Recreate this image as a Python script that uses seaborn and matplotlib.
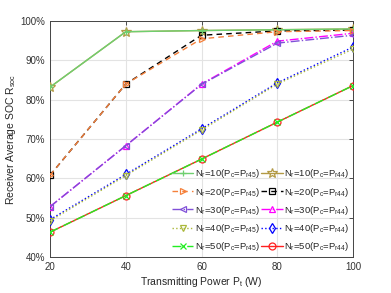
# receiver average SOC vs transmitting power

import numpy as np
import pandas as pd
import matplotlib
matplotlib.use("Agg")
import matplotlib.pyplot as plt
import seaborn as sns
from matplotlib.ticker import FuncFormatter


# =========================================
# DATA
# =========================================

power = [20, 40, 60, 80, 100]

nr10_r45 = [83.2, 97.3, 97.6, 97.8, 98.0]
nr20_r45 = [60.8, 84.0, 95.5, 97.3, 97.6]
nr30_r45 = [52.8, 68.3, 83.9, 94.4, 96.4]
nr40_r45 = [49.2, 60.7, 72.3, 84.0, 92.9]
nr50_r45 = [46.3, 55.6, 64.9, 74.3, 83.6]

nr10_r44 = [83.2, 97.3, 97.6, 97.8, 98.0]
nr20_r44 = [60.8, 84.0, 96.4, 97.5, 97.7]
nr30_r44 = [52.8, 68.3, 84.0, 94.9, 96.9]
nr40_r44 = [49.5, 61.0, 72.6, 84.3, 93.4]
nr50_r44 = [46.3, 55.6, 64.9, 74.3, 83.6]

labels_r45 = [r'N$_r$=%d(P$_c$=P$_{r45}$)' % n for n in [10, 20, 30, 40, 50]]
labels_r44 = [r'N$_r$=%d(P$_c$=P$_{r44}$)' % n for n in [10, 20, 30, 40, 50]]


# =========================================
# STYLE
# =========================================

sns.set_style("white")
plt.rcParams['font.family'] = ['Liberation Sans', 'DejaVu Sans']
plt.rcParams['mathtext.default'] = 'regular'
plt.rcParams['xtick.direction'] = 'in'
plt.rcParams['ytick.direction'] = 'in'

series = [
    (nr10_r45, labels_r45[0], '#6fcf6f', '-', '+'),
    (nr20_r45, labels_r45[1], '#f5803a', (0, (4, 3)), '>'),
    (nr30_r45, labels_r45[2], '#8050d8', '-.', '<'),
    (nr40_r45, labels_r45[3], '#aab83a', ':', 'v'),
    (nr50_r45, labels_r45[4], '#22ee22', '-.', 'x'),
    (nr10_r44, labels_r44[0], '#b39a45', '-', '*'),
    (nr20_r44, labels_r44[1], 'black', (0, (4, 3)), 's'),
    (nr30_r44, labels_r44[2], '#ff00ff', '-.', '^'),
    (nr40_r44, labels_r44[3], '#0000ff', ':', 'd'),
    (nr50_r44, labels_r44[4], '#ff2020', '-', 'o'),
]


# =========================================
# PLOT
# =========================================

fig = plt.figure(figsize=(3.91, 2.93), dpi=100)
ax = fig.add_axes([0.128, 0.123, 0.775, 0.805])

draw_order = [5, 6, 7, 8, 9, 0, 1, 2, 3, 4]

for i in draw_order:
    vals, lab, col, ls, mk = series[i]
    df = pd.DataFrame({'power': power, 'soc': vals})
    filled = mk in ['+', 'x']
    sns.lineplot(
        data=df, x='power', y='soc', ax=ax,
        color=col, linestyle=ls, linewidth=1.0,
        marker=mk, markersize=5 if mk != '*' else 7,
        markerfacecolor=col if filled else 'none',
        markeredgecolor=col, markeredgewidth=0.9,
        label=lab, zorder=3
    )

ax.set_xlim(20, 100)
ax.set_ylim(40, 100)
ax.set_xticks([20, 40, 60, 80, 100])
ax.set_yticks([40, 50, 60, 70, 80, 90, 100])
ax.yaxis.set_major_formatter(FuncFormatter(lambda v, p: '%d%%' % v))
ax.grid(True, color='#e3e3e3', linewidth=0.8)
ax.tick_params(labelsize=7, length=3, width=0.6, colors='#333333',
               top=True, right=True)
for s in ax.spines.values():
    s.set_color('#444444')
    s.set_linewidth(0.7)

ax.set_xlabel(r'Transmitting Power P$_t$ (W)', fontsize=7.5, labelpad=2)
ax.set_ylabel(r'Receiver Average SOC R$_{soc}$', fontsize=7.5, labelpad=2)

handles, labs = ax.get_legend_handles_labels()
order = [labs.index(l) for l in labels_r45 + labels_r44]
leg = ax.legend(
    [handles[k] for k in order], [labs[k] for k in order],
    ncol=2, loc='lower right', fontsize=6.8, frameon=False,
    borderaxespad=0.1, handlelength=2.3, handletextpad=0.15,
    columnspacing=0.1, labelspacing=0.55, borderpad=0.3
)

plt.savefig("out.png", dpi=100)
